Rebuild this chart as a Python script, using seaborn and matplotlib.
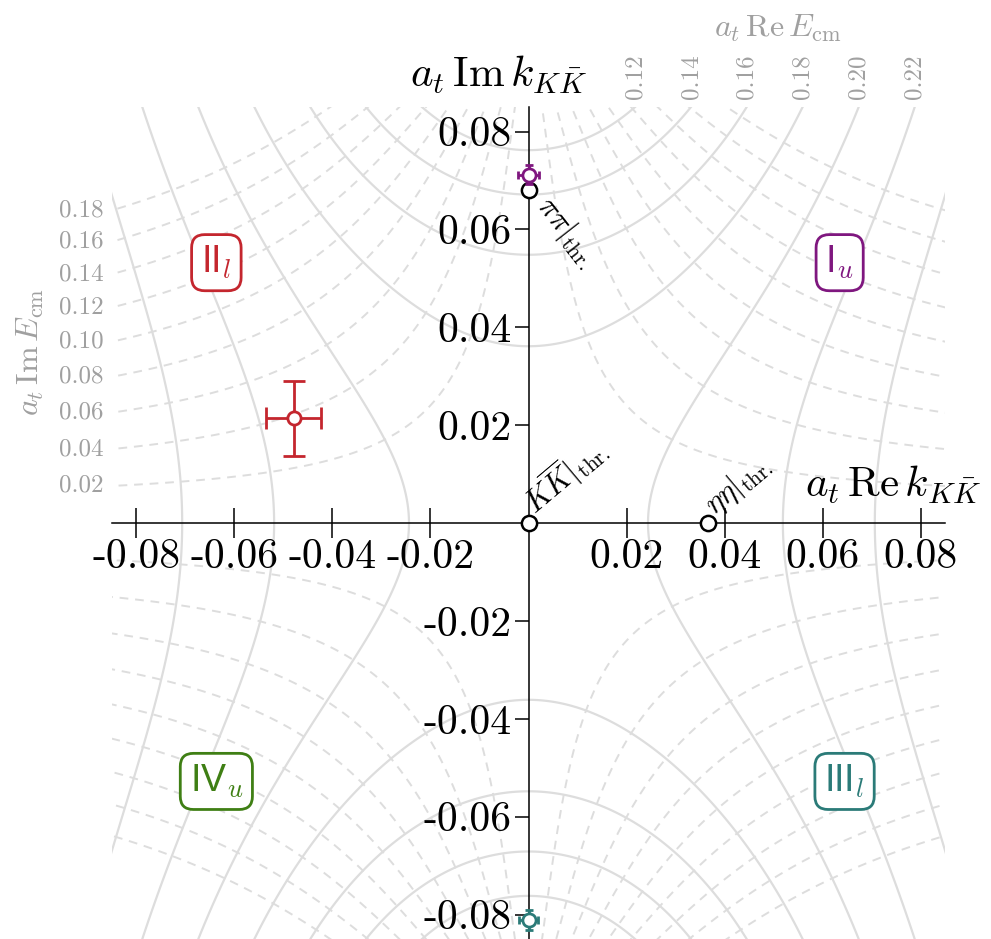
import numpy as np
import pandas as pd
import matplotlib
matplotlib.use('Agg')
import matplotlib.pyplot as plt
import seaborn as sns

# Meson masses in lattice units (a_t m)
m_pi = 0.06906
m_K = 0.09698
m_eta = 0.10364

# Levels of the E_cm grid drawn in the k plane
re_E_levels = [0.12, 0.14, 0.16, 0.18, 0.20, 0.22, 0.24]
re_E_ticks = [0.12, 0.14, 0.16, 0.18, 0.20, 0.22]
im_E_levels = [0.02, 0.04, 0.06, 0.08, 0.10, 0.12, 0.14, 0.16, 0.18]

# Poles (a_t k) with uncertainties
pole_sheet = ['I_u', 'II_l', 'III_l']
pole_re = [0.0, -0.0479, 0.0]
pole_im = [0.0712, 0.0214, -0.0811]
pole_re_err = [0.0021, 0.0056, 0.0020]
pole_im_err = [0.0019, 0.0077, 0.0020]
pole_color = ['#7f177f', '#c4262e', '#2b7b78']

# Riemann sheet labels
sheet_text = ['I$_u$', 'II$_l$', 'III$_l$', 'IV$_u$']
sheet_x = [0.0635, -0.0637, 0.0645, -0.0637]
sheet_y = [0.0532, 0.0532, -0.0528, -0.0528]
sheet_color = ['#7f177f', '#c4262e', '#2b7b78', '#3f7f14']

tick_vals = [-0.08, -0.06, -0.04, -0.02, 0.02, 0.04, 0.06, 0.08]
lim = 0.085
grey = '#a0a0a0'
grid_col = '#dddddd'

sns.set_theme(style='white')
plt.rcParams['font.family'] = ['cmr10', 'DejaVu Serif']
plt.rcParams['mathtext.fontset'] = 'cm'
plt.rcParams['axes.unicode_minus'] = False
plt.rcParams['text.color'] = 'black'
plt.rcParams['lines.dashed_pattern'] = [4.5, 3.5]

fig = plt.figure(figsize=(9.91, 9.39), dpi=100)
ax = fig.add_axes([0.113, 0.0, 0.8406, 0.886])
ax.set_xlim(-lim, lim)
ax.set_ylim(-lim, lim)

# Step 1: grid of constant Re E_cm (solid) and Im E_cm (dashed)
kr = np.linspace(-0.09, 0.09, 901)
KR, KI = np.meshgrid(kr, kr)
E = 2 * np.sqrt(m_K**2 + (KR + 1j * KI)**2)
ax.contour(KR, KI, E.real, levels=re_E_levels, colors=grid_col,
           linewidths=1.6, linestyles='solid', zorder=0.5)
ax.contour(KR, KI, 2 * np.abs(E.imag), levels=im_E_levels, colors=grid_col,
           linewidths=1.4, linestyles='dashed', zorder=0.5)

# grid labels where the contours leave the frame
x_top = np.linspace(0, lim, 3000)
re_top = (2 * np.sqrt(m_K**2 + (x_top + 1j * lim)**2)).real
for v in re_E_ticks:
    ax.annotate(f'{v:.2f}', xy=(np.interp(v, re_top, x_top), lim), xytext=(0, 6),
                textcoords='offset points', rotation=90, ha='center', va='bottom',
                color=grey, fontsize=18, annotation_clip=False)
y_left = np.linspace(0, lim, 3000)
im_left = 2 * np.abs((2 * np.sqrt(m_K**2 + (-lim + 1j * y_left)**2)).imag)
for v in im_E_levels:
    ax.annotate(f'{v:.2f}', xy=(-lim, np.interp(v, im_left, y_left)), xytext=(-6, 0),
                textcoords='offset points', ha='right', va='center',
                color=grey, fontsize=18, annotation_clip=False)
fig.text(778 / 991, 1 - 28 / 939, r'$a_t\,\mathrm{Re}\,E_\mathrm{cm}$', color=grey,
         fontsize=23, ha='center', va='center')
fig.text(30 / 991, 1 - 352 / 939, r'$a_t\,\mathrm{Im}\,E_\mathrm{cm}$', color=grey,
         fontsize=23, ha='center', va='center', rotation=90)

# Step 2: axes through the origin
for s in ['top', 'right']:
    ax.spines[s].set_visible(False)
for s in ['left', 'bottom']:
    ax.spines[s].set_position('zero')
    ax.spines[s].set_color('black')
    ax.spines[s].set_linewidth(1.1)
    ax.spines[s].set_zorder(2)
ax.set_xticks(tick_vals)
ax.set_xticklabels([f'{v:.2f}' for v in tick_vals])
ax.set_yticks(tick_vals)
ax.set_yticklabels([f'{v:.2f}' for v in tick_vals])
ax.tick_params(axis='x', direction='inout', length=21, width=1.1, color='black',
               labelcolor='black', labelsize=30, pad=1, bottom=True)
ax.tick_params(axis='y', direction='out', length=10, width=1.1, color='black',
               labelcolor='black', labelsize=30, pad=2, left=True)
ax.text(-0.0062, lim + 0.0022, r'$a_t\,\mathrm{Im}\,k_{K\bar{K}}$', fontsize=31,
        ha='center', va='bottom', clip_on=False)
ax.text(0.0745, 0.0035, r'$a_t\,\mathrm{Re}\,k_{K\bar{K}}$', fontsize=31,
        ha='center', va='bottom')

# Step 3: thresholds
thr = pd.DataFrame({
    'name': [r'$\pi\pi|_\mathrm{thr.}$', r'$K\overline{K}|_\mathrm{thr.}$', r'$\eta\eta|_\mathrm{thr.}$'],
    're': [0.0, 0.0, np.sqrt(m_eta**2 - m_K**2)],
    'im': [np.sqrt(m_K**2 - m_pi**2), 0.0, 0.0],
})
sns.scatterplot(data=thr, x='re', y='im', ax=ax, s=120, color='white',
                edgecolor='black', linewidth=1.8, zorder=6, legend=False)
ax.set_xlabel('')
ax.set_ylabel('')
ax.annotate(thr['name'][0], xy=(thr['re'][0], thr['im'][0]), xytext=(10, -8),
            textcoords='offset points', rotation=-52, rotation_mode='anchor',
            ha='left', va='center', fontsize=22)
for i in [1, 2]:
    ax.annotate(thr['name'][i], xy=(thr['re'][i], thr['im'][i]), xytext=(9, 1),
                textcoords='offset points', rotation=40, rotation_mode='anchor',
                ha='left', va='bottom', fontsize=22)

# Step 4: poles with errors
for i in range(len(pole_sheet)):
    ax.errorbar(pole_re[i], pole_im[i], xerr=pole_re_err[i], yerr=pole_im_err[i],
                fmt='o', ms=9.5, mfc='white', mec=pole_color[i], mew=2,
                ecolor=pole_color[i], elinewidth=2, capsize=8 if i == 1 else 3,
                capthick=2, zorder=7)

# Step 5: sheet labels
for t, x, y, c in zip(sheet_text, sheet_x, sheet_y, sheet_color):
    ax.text(x, y, t, color=c, fontsize=27, family='Liberation Sans',
            ha='center', va='center', zorder=8,
            bbox=dict(boxstyle='round,pad=0.25,rounding_size=0.35', fc='white',
                      ec=c, lw=2))

plt.savefig('out.png', dpi=100)
